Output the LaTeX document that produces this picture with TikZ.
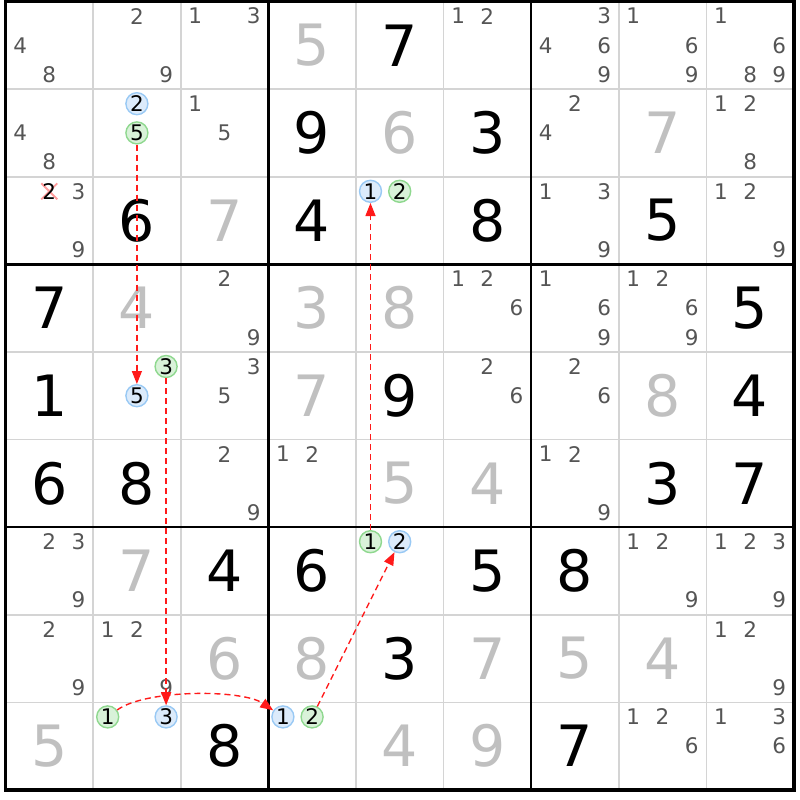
\documentclass[tikz,border=0pt]{standalone}
\usepackage{fontspec}
\setmainfont{DejaVu Sans}
\usetikzlibrary{calc,arrows.meta}

\definecolor{candgray}{HTML}{555555}
\definecolor{solvedgray}{HTML}{C0C0C0}
\definecolor{gridgray}{HTML}{D4D4D4}
\definecolor{ringblue}{HTML}{99C9F4}
\definecolor{fillblue}{HTML}{DCEBFB}
\definecolor{ringgreen}{HTML}{8FD88F}
\definecolor{fillgreen}{HTML}{D9F2D9}
\definecolor{chainred}{HTML}{FF1A1A}
\definecolor{crosspink}{HTML}{FF9C9C}

\tikzset{
  given/.style={font=\fontsize{57}{60}\selectfont, text=black},
  solved/.style={font=\fontsize{57}{60}\selectfont, text=solvedgray},
  cand/.style={font=\fontsize{21.5}{23}\selectfont, text=candgray, inner sep=0pt},
  circcand/.style={cand, text=black, circle, line width=1.4pt, minimum size=22pt},
  chain/.style={chainred, line width=1.4pt, dash pattern=on 6pt off 4pt,
    -{Triangle[length=13pt,width=10pt]}},
  crossout/.style={crosspink, line width=1.8pt},
}

\begin{document}
\begin{tikzpicture}[x=87.6pt, y=-87.6pt]

        \useasboundingbox (-0.0628,-0.0171) rectangle (9.0696,9.1153);

        %grid
        \foreach \i in {1,2,4,5,7,8}{
        	\draw[gridgray, line width=1.6pt] (\i,0) -- (\i,9);
        	\draw[gridgray, line width=1.6pt] (0,\i) -- (9,\i);
        }
        \foreach \i in {3,6}{
        	\draw[black, line width=2.6pt] (\i,0) -- (\i,9);
        	\draw[black, line width=2.6pt] (0,\i) -- (9,\i);
        }
        \draw[black, line width=3.4pt] (0,0) rectangle (9,9);

        %givens
        \foreach \r/\c/\d in {0/4/7, 1/3/9, 1/5/3, 2/1/6, 2/3/4, 2/5/8, 2/7/5,
        	3/0/7, 3/8/5, 4/0/1, 4/4/9, 4/8/4, 5/0/6, 5/1/8, 5/7/3, 5/8/7,
        	6/2/4, 6/3/6, 6/5/5, 6/6/8, 7/4/3, 8/2/8, 8/6/7}{
        	\node[given] (v\r\c) at (\c+0.5,\r+0.5) {\d};
        }

        %solved
        \foreach \r/\c/\d in {0/3/5, 1/4/6, 1/7/7, 2/2/7, 3/1/4, 3/3/3, 3/4/8,
        	4/3/7, 4/7/8, 5/4/5, 5/5/4, 6/1/7, 7/2/6, 7/3/8, 7/5/7, 7/6/5,
        	7/7/4, 8/0/5, 8/4/4, 8/5/9}{
        	\node[solved] (v\r\c) at (\c+0.5,\r+0.5) {\d};
        }

        %candidates
        \foreach \r/\c/\ds in {0/0/{4,8}, 0/1/{2,9}, 0/2/{1,3}, 0/5/{1,2},
        	0/6/{3,4,6,9}, 0/7/{1,6,9}, 0/8/{1,6,8,9},
        	1/0/{4,8}, 1/2/{1,5}, 1/6/{2,4}, 1/8/{1,2,8},
        	2/0/{3,9}, 2/6/{1,3,9}, 2/8/{1,2,9},
        	3/2/{2,9}, 3/5/{1,2,6}, 3/6/{1,6,9}, 3/7/{1,2,6,9},
        	4/2/{3,5}, 4/5/{2,6}, 4/6/{2,6},
        	5/2/{2,9}, 5/3/{1,2}, 5/6/{1,2,9},
        	6/0/{2,3,9}, 6/7/{1,2,9}, 6/8/{1,2,3,9},
        	7/0/{2,9}, 7/1/{1,2,9}, 7/8/{1,2,9},
        	8/7/{1,2,6}, 8/8/{1,3,6}}{
        	\foreach \d in \ds {
        		\pgfmathsetmacro{\px}{\c+(mod(\d-1,3)+0.5)/3}
        		\pgfmathsetmacro{\py}{\r+(floor((\d-1)/3)+0.5)/3}
        		\node[cand] (n\r\c\d) at (\px,\py) {\d};
        	}
        }

        %eliminated candidate
        \coordinate (x202) at (0.5,2.1667);
        \draw[crossout] ($(x202)+(-8pt,-8pt)$) -- ($(x202)+(8pt,8pt)$)
        	($(x202)+(-8pt,8pt)$) -- ($(x202)+(8pt,-8pt)$);
        \node[cand, text=black] (n202) at (x202) {2};

        %chain candidates
        \foreach \r/\c/\d/\s in {1/1/2/blue, 1/1/5/green, 2/4/1/blue, 2/4/2/green,
        	4/1/3/green, 4/1/5/blue, 6/4/1/green, 6/4/2/blue,
        	8/1/1/green, 8/1/3/blue, 8/3/1/blue, 8/3/2/green}{
        	\pgfmathsetmacro{\px}{\c+(mod(\d-1,3)+0.5)/3}
        	\pgfmathsetmacro{\py}{\r+(floor((\d-1)/3)+0.5)/3}
        	\node[circcand, draw=ring\s, fill=fill\s] (n\r\c\d) at (\px,\py) {\d};
        }

        %chain
        \draw[chain] (n115) -- (n415);
        \draw[chain] (n413) -- (n813);
        \draw[chain] (n811) .. controls (1.6,7.85) and (2.7,7.85) .. (n831);
        \draw[chain] (n832) -- (n642);
        \draw[chain] (n641) -- (n241);

\end{tikzpicture}
\end{document}
